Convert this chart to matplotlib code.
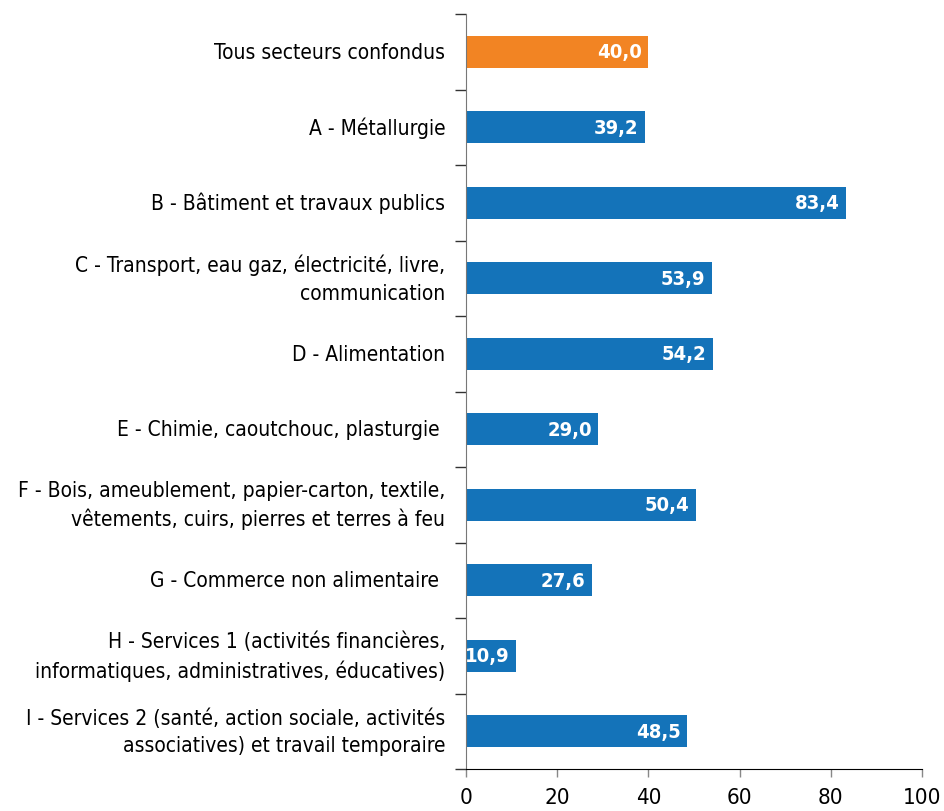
import matplotlib
matplotlib.use("Agg")
import matplotlib.pyplot as plt
from matplotlib import font_manager

# data
categories = [
    "Tous secteurs confondus",
    "A - Métallurgie",
    "B - Bâtiment et travaux publics",
    "C - Transport, eau gaz, électricité, livre,\ncommunication",
    "D - Alimentation",
    "E - Chimie, caoutchouc, plasturgie ",
    "F - Bois, ameublement, papier-carton, textile,\nvêtements, cuirs, pierres et terres à feu",
    "G - Commerce non alimentaire ",
    "H - Services 1 (activités financières,\ninformatiques, administratives, éducatives)",
    "I - Services 2 (santé, action sociale, activités\nassociatives) et travail temporaire",
]
values = [40.0, 39.2, 83.4, 53.9, 54.2, 29.0, 50.4, 27.6, 10.9, 48.5]
x_ticks = [0, 20, 40, 60, 80, 100]

ORANGE = "#F28423"
BLUE = "#1473B9"

fonts = font_manager.fontManager.ttflist
has_cond = any(f.name == "DejaVu Sans" and f.stretch == "condensed" for f in fonts)
plt.rcParams["font.family"] = ["DejaVu Sans"]
stretch = "condensed" if has_cond else "normal"

fig = plt.figure(figsize=(9.45, 8.12), dpi=100)
ax = fig.add_axes([466 / 945, 42 / 812, 456 / 945, 755 / 812])

n = len(categories)
ypos = list(range(n))
colors = [ORANGE] + [BLUE] * (n - 1)
ax.barh(ypos, values, height=0.43, color=colors, zorder=2)

for y, v in zip(ypos, values):
    ax.text(v - 1.4, y, f"{v:.1f}".replace(".", ","), ha="right", va="center",
            color="white", fontsize=14.5, fontweight="bold", fontstretch=stretch, zorder=3)

ax.set_xlim(0, 100)
ax.set_ylim(n - 0.5, -0.5)
ax.set_xticks(x_ticks)
ax.set_xticklabels([str(t) for t in x_ticks], fontsize=16, fontstretch=stretch)

# category labels at bar centres; ticks sit on category boundaries
ax.set_yticks([i - 0.5 for i in range(n + 1)])
ax.set_yticklabels([])
for y, lab in zip(ypos, categories):
    ax.text(-4.5, y, lab, ha="right", va="center", fontsize=15,
            fontstretch=stretch, linespacing=1.45)

ax.tick_params(axis="y", length=8, color="#333333", width=1)
ax.tick_params(axis="x", length=6, color="#888888", width=1, pad=7)

for s in ["top", "right"]:
    ax.spines[s].set_visible(False)
ax.spines["left"].set_color("#777777")
ax.spines["bottom"].set_color("black")

fig.savefig("out.png", dpi=100)
